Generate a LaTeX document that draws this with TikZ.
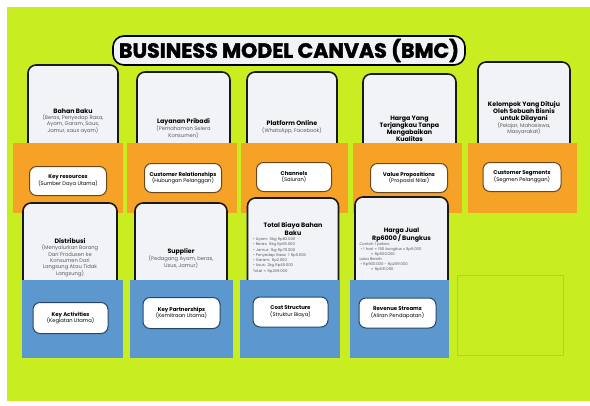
\documentclass[tikz,border=0pt]{standalone}
\usepackage{fontspec}
\setmainfont{Poppins}
\newfontfamily\bannerfont{Poppins}[BoldFeatures={FakeBold=2}]
\usetikzlibrary{positioning}

\definecolor{felt}{RGB}{200,238,34}
\definecolor{feltline}{RGB}{176,212,40}
\definecolor{pocketorange}{RGB}{246,162,38}
\definecolor{pocketblue}{RGB}{92,152,205}
\definecolor{cardwhite}{RGB}{241,243,246}
\definecolor{notegray}{RGB}{90,90,96}
\definecolor{rimbrown}{RGB}{105,72,30}
\definecolor{rimblue}{RGB}{40,70,105}

\newcommand{\cardtitle}[1]{{\fontsize{6.3}{7.3}\selectfont\bfseries #1}}
\newcommand{\cardnote}[1]{{\fontsize{5.2}{6.2}\selectfont\color{notegray}#1}}
\newcommand{\tagtitle}[1]{{\fontsize{5.4}{6.4}\selectfont\bfseries #1}}
\newcommand{\smallnote}[1]{{\fontsize{3.8}{4.6}\selectfont\color{notegray}#1}}

\begin{document}
\begin{tikzpicture}[
  x=1pt, y=-1pt,
  card/.style={draw=black!90, line width=1.6pt, fill=cardwhite, rounded corners=8pt,
    align=center, inner sep=3pt, font=\fontsize{5.2}{6.4}\selectfont},
  pocket/.style={minimum height=70pt, inner sep=0pt},
  opocket/.style={pocket, fill=pocketorange},
  bpocket/.style={pocket, fill=pocketblue, minimum height=78pt},
  tag/.style={fill=white, rounded corners=7pt, line width=1pt, align=center,
    minimum width=77pt, minimum height=29pt, inner sep=1pt, font=\fontsize{5.2}{6.6}\selectfont},
  otag/.style={tag, draw=rimbrown},
  btag/.style={tag, draw=rimblue},
  banner/.style={draw=black, line width=1.6pt, fill=cardwhite, rounded corners=11pt,
    minimum width=352pt, minimum height=29pt, inner sep=0pt,
    font=\bannerfont\fontsize{20.6}{22}\selectfont\bfseries}
]
% board
\fill[white] (0,0) rectangle (590,405);
\fill[felt] (7,7) rectangle (590,401);

% heading
\node[banner] (judul) at (289,50.5) {BUSINESS MODEL CANVAS (BMC)};

% upper cards
\node[card, minimum width=90pt, minimum height=112pt] (bahan) at (73,121)
  {\cardtitle{Bahan Baku}\\\cardnote{(Beras, Penyedap Rasa,}\\\cardnote{Ayam, Garam, Saus,}\\\cardnote{Jamur, saus ayam)}};
\node[card, minimum width=93pt, minimum height=112pt] (layanan) at (183.5,128)
  {\cardtitle{Layanan Pribadi}\\\cardnote{(Pemahaman Selera}\\\cardnote{Konsumen)}};
\node[card, minimum width=90pt, minimum height=110pt] (platform) at (292,127)
  {\cardtitle{Platform Online}\\\cardnote{(WhatsApp, Facebook)}};
\node[card, minimum width=93pt, minimum height=110pt, font=\fontsize{5.2}{6.8}\selectfont] (harga) at (409.5,129)
  {\cardtitle{Harga Yang}\\\cardtitle{Terjangkau Tanpa}\\\cardtitle{Mengabaikan}\\\cardtitle{Kualitas}};
\node[card, minimum width=92pt, minimum height=112pt, font=\fontsize{5.2}{6.6}\selectfont] (kelompok) at (524,118)
  {\cardtitle{Kelompok Yang Dituju}\\\cardtitle{Oleh Sebuah Bisnis}\\\cardtitle{untuk Dilayani}\\\cardnote{(Pelajar, Mahasiswa,}\\\cardnote{Masyarakat)}};

% orange pockets
\node[opocket, minimum width=110pt] (pkr) at (68,178) {};
\node[opocket, minimum width=110pt] (pcr) at (182,178) {};
\node[opocket, minimum width=107pt] (pch) at (294.5,178) {};
\node[opocket, minimum width=109pt] (pvp) at (407.5,178) {};
\node[opocket, minimum width=109pt] (pcs) at (522.5,178) {};

\node[otag] (kr) at (68,181) {\tagtitle{Key resources}\\(Sumber Daya Utama)};
\node[otag] (cr) at (183,178) {\tagtitle{Customer Relationships}\\(Hubungan Pelanggan)};
\node[otag, minimum width=75pt] (ch) at (294,177) {\tagtitle{Channels}\\(Saluran)};
\node[otag] (vp) at (409,178) {\tagtitle{Value Propositions}\\(Proposisi Nilai)};
\node[otag, minimum width=78pt] (cs) at (522,177) {\tagtitle{Customer Segments}\\(Segmen Pelanggan)};

% lower cards
\node[card, minimum width=94pt, minimum height=110pt, font=\fontsize{5.2}{6.2}\selectfont] (distribusi) at (70,258)
  {\cardtitle{Distribusi}\\\cardnote{(Menyalurkan Barang}\\\cardnote{Dari Produsen ke}\\\cardnote{Konsumen Dari}\\\cardnote{Langsung Atau Tidak}\\\cardnote{Langsung)}};
\node[card, minimum width=92pt, minimum height=110pt] (supplier) at (181,258)
  {\cardtitle{Supplier}\\\cardnote{(Pedagang Ayam, beras,}\\\cardnote{Usus, Jamur)}};
\node[card, minimum width=91pt, minimum height=100pt, text width=80pt, align=left,
      font=\fontsize{3.8}{5.3}\selectfont] (biaya) at (293,248)
  {{\centering\fontsize{6.3}{7.3}\selectfont\bfseries Total Biaya Bahan\\Baku\par}
   \smallnote{• Ayam: 5kg Rp82.000}\\
   \smallnote{• Beras: 5kg Rp65.000}\\
   \smallnote{• Jamur: 1kg Rp70.000}\\
   \smallnote{• Penyedap Rasa: 1 Rp5.000}\\
   \smallnote{• Garam: Rp2.000}\\
   \smallnote{• Usus: 2kg Rp45.000}\\
   \smallnote{Total = Rp269.000}};
\node[card, minimum width=93pt, minimum height=105pt, text width=84pt, align=left,
      font=\fontsize{3.6}{4.9}\selectfont] (jual) at (401.5,249.5)
  {{\centering\fontsize{6.3}{7.5}\selectfont\bfseries Harga Jual\\Rp6000 / Bungkus\par}
   \smallnote{Contoh 1 pekan:}\\
   \smallnote{\ • 1 hari = 150 bungkus x Rp6.000}\\
   \smallnote{\qquad\quad = Rp900.000}\\
   \smallnote{Laba Bersih:}\\
   \smallnote{\ • Rp900.000 - Rp269.000}\\
   \smallnote{\qquad\quad = Rp631.000}};

% blue pockets
\node[bpocket, minimum width=101pt] (pka) at (72.5,319) {};
\node[bpocket, minimum width=103pt] (pkp) at (181.5,319) {};
\node[bpocket, minimum width=100pt] (pcost) at (290,319) {};
\node[bpocket, minimum width=99pt] (prev) at (399.5,319) {};
\node[pocket, draw=feltline, line width=0.9pt, minimum width=106pt, minimum height=80pt] (pkosong) at (510,315) {};

\node[btag, minimum width=75pt, minimum height=31pt] (ka) at (70.5,318) {\tagtitle{Key Activities}\\(Kegiatan Utama)};
\node[btag, minimum height=31pt] (kp) at (181.5,313) {\tagtitle{Key Partnerships}\\(Kemitraan Utama)};
\node[btag, minimum width=75pt, minimum height=30pt] (cost) at (290.5,312) {\tagtitle{Cost Structure}\\(Struktur Biaya)};
\node[btag, minimum height=30pt] (rev) at (397.5,313) {\tagtitle{Revenue Streams}\\(Aliran Pendapatan)};
\end{tikzpicture}
\end{document}
